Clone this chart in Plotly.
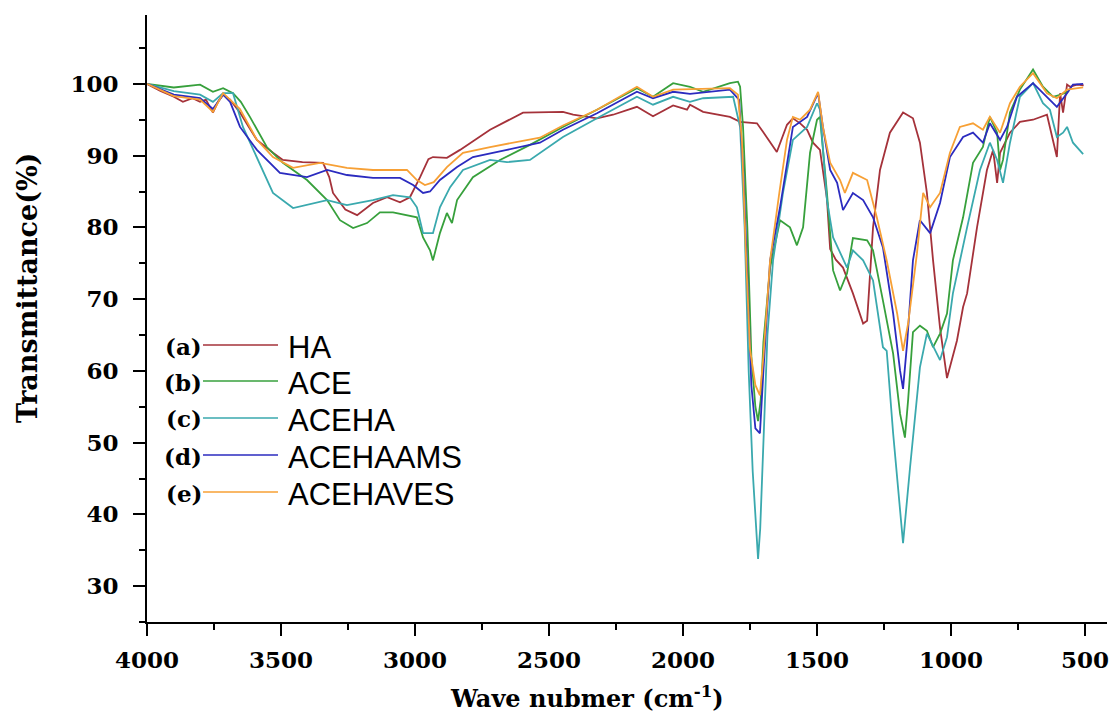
import plotly.graph_objects as go

# ---------------- data ----------------
series_names = ["HA", "ACE", "ACEHA", "ACEHAAMS", "ACEHAVES"]
series_tags = ["(a)", "(b)", "(c)", "(d)", "(e)"]
series_colors = ["#A5323A", "#37A03C", "#3AA9AE", "#2B2BBF", "#F7A035"]

ha_wn = [4000, 3950, 3900, 3866, 3830, 3802, 3780, 3754, 3735, 3716, 3690, 3653, 3620, 3590, 3530, 3493, 3420, 3343, 3320, 3306, 3260, 3216, 3157, 3104, 3056, 3019, 2981, 2950, 2933, 2881, 2832, 2720, 2597, 2448, 2410, 2321, 2261, 2172, 2112, 2037, 1985, 1974, 1925, 1825, 1787, 1724, 1701, 1650, 1612, 1590, 1563, 1537, 1515, 1489, 1463, 1451, 1430, 1403, 1366, 1328, 1313, 1291, 1265, 1228, 1179, 1142, 1116, 1090, 1067, 1041, 1015, 978, 955, 940, 903, 866, 843, 828, 817, 780, 743, 694, 642, 631, 605, 593, 582, 567, 556, 530, 505]
ha_t = [100, 99, 98.2, 97.5, 98.0, 97.5, 97.8, 96.0, 97.5, 98.5, 97.8, 96, 94, 92.2, 90.4, 89.4, 89.1, 89, 87, 84.8, 82.5, 81.7, 83.4, 84.2, 83.5, 84.2, 87, 89.5, 89.8, 89.7, 90.8, 93.6, 96, 96.1, 95.7, 95.2, 95.7, 96.8, 95.5, 97, 96.4, 97.1, 96.1, 95.4, 94.7, 94.5, 93.3, 90.5, 94.3, 95.2, 94.5, 93.6, 91.8, 90.8, 84, 77, 75.5, 74.4, 70.8, 66.6, 67, 80, 88, 93.2, 96, 95.2, 91.8, 84.8, 75.4, 66, 59, 64.2, 68.9, 70.8, 80, 88, 90.8, 86.2, 90.4, 93.2, 94.7, 95, 95.7, 94, 89.8, 98.7, 96, 99.9, 99.6, 99.9, 99.8]

ace_wn = [4000, 3900, 3802, 3754, 3716, 3679, 3650, 3616, 3553, 3493, 3403, 3328, 3280, 3231, 3179, 3131, 3082, 3030, 2993, 2970, 2944, 2933, 2907, 2881, 2862, 2843, 2784, 2683, 2571, 2448, 2321, 2172, 2112, 2037, 1974, 1925, 1825, 1795, 1787, 1776, 1760, 1745, 1730, 1720, 1710, 1700, 1675, 1638, 1601, 1575, 1552, 1526, 1500, 1489, 1463, 1440, 1414, 1388, 1366, 1313, 1291, 1254, 1216, 1190, 1172, 1160, 1142, 1116, 1090, 1067, 1041, 1015, 993, 955, 918, 881, 855, 828, 817, 806, 780, 743, 694, 657, 619, 590, 560]
ace_t = [100, 99.5, 99.9, 98.9, 99.4, 98.7, 97.5, 95.4, 91.2, 89, 86.6, 83.8, 81, 79.9, 80.6, 82.1, 82.1, 81.7, 81.4, 78.6, 76.8, 75.4, 79.2, 82, 80.6, 83.8, 87, 89.4, 91.5, 94, 96.4, 99.4, 98.2, 100.1, 99.6, 98.9, 100.1, 100.3, 99.6, 94, 80, 62, 55, 53, 56, 64, 74.4, 81, 80, 77.5, 80, 90.4, 95, 95.4, 84.8, 74, 71.2, 73.6, 78.5, 78.2, 76.8, 69.8, 62.4, 54, 50.7, 56, 65.4, 66.3, 65.6, 63.3, 65.2, 68, 75.4, 81.4, 89, 91.2, 95.4, 93.2, 88, 89.4, 96, 99.2, 102, 99.6, 98.2, 98.5, 99]

aceha_wn = [4000, 3900, 3802, 3754, 3716, 3679, 3642, 3590, 3530, 3455, 3381, 3328, 3254, 3157, 3082, 3019, 2993, 2970, 2933, 2907, 2869, 2821, 2720, 2657, 2571, 2448, 2321, 2172, 2112, 2037, 1974, 1925, 1813, 1787, 1770, 1755, 1740, 1728, 1720, 1712, 1700, 1685, 1664, 1627, 1590, 1537, 1500, 1489, 1463, 1440, 1388, 1366, 1328, 1291, 1254, 1240, 1216, 1179, 1153, 1116, 1090, 1041, 1015, 993, 940, 892, 855, 828, 806, 780, 743, 694, 657, 631, 605, 582, 567, 545, 507]
aceha_t = [100, 99, 98.5, 97.5, 98.7, 98.7, 94, 89.8, 84.8, 82.7, 83.4, 83.8, 83.1, 83.8, 84.5, 84.2, 82.8, 79.2, 79.2, 82.8, 85.6, 88, 89.4, 89.1, 89.4, 92.6, 95.2, 98.2, 97.1, 98.2, 97.5, 98, 98.2, 94, 80, 60, 46, 38, 33.8, 38, 50, 65, 75.4, 84.8, 92.2, 94, 97.3, 96.4, 83.8, 78.6, 74.4, 76.8, 75.4, 72.6, 63.3, 62.8, 51.3, 36, 46.5, 60.5, 65.2, 61.5, 64.7, 70.8, 80, 88, 91.8, 89.4, 86.2, 91.8, 98.2, 100.1, 97.3, 96.4, 92.6, 93.2, 94, 91.8, 90.2]

acehaams_wn = [4000, 3900, 3802, 3754, 3716, 3690, 3653, 3590, 3504, 3403, 3328, 3254, 3157, 3056, 3007, 2970, 2944, 2907, 2843, 2784, 2657, 2534, 2448, 2321, 2172, 2112, 2037, 1974, 1825, 1791, 1775, 1760, 1745, 1730, 1713, 1700, 1675, 1638, 1590, 1537, 1496, 1478, 1451, 1425, 1403, 1366, 1328, 1291, 1254, 1216, 1190, 1179, 1164, 1142, 1116, 1078, 1041, 1004, 955, 918, 881, 855, 817, 791, 754, 694, 642, 605, 567, 545, 507]
acehaams_t = [100, 98.5, 98, 96.5, 98.5, 97.5, 94, 90.8, 87.6, 87, 88, 87.3, 86.9, 86.9, 85.9, 84.8, 85.0, 86.6, 88.4, 89.8, 90.8, 91.8, 93.6, 95.9, 98.9, 98, 98.9, 98.6, 99.2, 97.8, 88, 72, 58, 52, 51.3, 60, 75.4, 82.8, 94, 95.4, 98.7, 94, 88, 86.2, 82.4, 84.8, 83.8, 81.4, 77.2, 68, 60, 57.5, 63.8, 75.4, 81, 79.2, 83.4, 89.8, 92.6, 93.2, 91.8, 94.5, 92.2, 94, 98.2, 100.1, 98.2, 96.8, 98.7, 99.9, 100]

acehaves_wn = [4000, 3900, 3802, 3754, 3716, 3690, 3653, 3590, 3530, 3455, 3354, 3254, 3157, 3030, 2993, 2963, 2930, 2881, 2821, 2720, 2534, 2448, 2321, 2172, 2112, 2037, 1825, 1795, 1780, 1765, 1750, 1730, 1713, 1700, 1675, 1640, 1612, 1590, 1563, 1526, 1496, 1478, 1451, 1414, 1396, 1366, 1313, 1277, 1240, 1201, 1179, 1160, 1127, 1104, 1078, 1041, 1004, 967, 918, 881, 855, 817, 780, 743, 694, 642, 605, 567, 507]
acehaves_t = [100, 98.3, 97.8, 96.1, 98.7, 97.8, 96.5, 92.2, 89.8, 88.3, 89, 88.3, 88, 88, 86.6, 85.9, 86.3, 88.4, 90.4, 91.2, 92.5, 94.2, 96.4, 99.6, 98.2, 99.2, 99.4, 98.5, 92, 76, 63, 58, 56.6, 62, 75.4, 85, 92.2, 95.4, 95, 96.4, 98.9, 94, 89, 86.6, 84.8, 87.6, 86.6, 81.4, 75.4, 68, 62.8, 66.6, 76.4, 84.8, 82.8, 84.8, 90.4, 94, 94.5, 93.6, 95.4, 93.2, 97.3, 99.6, 101.5, 98.7, 98, 99.2, 99.5]

x_ticks = [4000, 3500, 3000, 2500, 2000, 1500, 1000, 500]
y_ticks = [30, 40, 50, 60, 70, 80, 90, 100]

all_wn = [ha_wn, ace_wn, aceha_wn, acehaams_wn, acehaves_wn]
all_t = [ha_t, ace_t, aceha_t, acehaams_t, acehaves_t]

# ---------------- layout geometry (window pixels) ----------------
W, H = 1109, 719
PLOT_L, PLOT_R, PLOT_T, PLOT_B = 147, 1107, 15, 622   # plot area in window pixels
L, T = PLOT_L, PLOT_T
R = W - PLOT_R
B = H - PLOT_B
PW, PH = PLOT_R - PLOT_L, PLOT_B - PLOT_T


def px(xp):
    return (xp - PLOT_L) / PW


def py(yp):
    return (PLOT_B - yp) / PH


fig = go.Figure()
for wn, t, name, col in zip(all_wn, all_t, series_names, series_colors):
    fig.add_trace(go.Scatter(x=wn, y=t, mode="lines", name=name,
                             line=dict(color=col, width=1.8), showlegend=False))

tickfont = dict(family="DejaVu Serif", size=23, color="black", weight="bold")

fig.update_xaxes(range=[4000, 418], tickmode="array", tickvals=x_ticks,
                 ticktext=[str(v) for v in x_ticks],
                 showline=True, linecolor="black", linewidth=2, mirror=False,
                 ticks="outside", ticklen=12, tickwidth=2, tickcolor="black",
                 minor=dict(ticks="outside", ticklen=6, tickwidth=2, tickcolor="black",
                            dtick=250, tick0=0),
                 showgrid=False, zeroline=False, tickfont=tickfont,
                 ticklabelstandoff=4, automargin=False, ticklabeloverflow="allow")
fig.update_yaxes(range=[25, 109.6], tickmode="array", tickvals=y_ticks,
                 ticktext=[str(v) for v in y_ticks],
                 showline=True, linecolor="black", linewidth=2, mirror=False,
                 ticks="outside", ticklen=12, tickwidth=2, tickcolor="black",
                 minor=dict(ticks="outside", ticklen=6, tickwidth=2, tickcolor="black",
                            dtick=5, tick0=0),
                 showgrid=False, zeroline=False, tickfont=tickfont,
                 ticklabelstandoff=10, automargin=False, ticklabeloverflow="allow")

annotations = [
    dict(text="Transmittance(%)", x=px(27), y=py(288), xref="paper", yref="paper",
         textangle=-90, showarrow=False, xanchor="center", yanchor="middle",
         font=dict(family="DejaVu Serif", size=27, color="black", weight="bold")),
    dict(text="Wave nubmer (cm<sup>-1</sup>)", x=px(587), y=py(697), xref="paper", yref="paper",
         showarrow=False, xanchor="center", yanchor="middle",
         font=dict(family="DejaVu Serif", size=24, color="black", weight="bold")),
]
shapes = []
row_y = [346, 382, 419, 456, 493]
for tag, name, col, yy in zip(series_tags, series_names, series_colors, row_y):
    annotations.append(dict(text=tag, x=px(204), y=py(yy), xref="paper", yref="paper",
                            showarrow=False, xanchor="right", yanchor="middle",
                            font=dict(family="DejaVu Serif", size=23, color="black", weight="bold")))
    annotations.append(dict(text=name, x=px(286), y=py(yy + 1), xref="paper", yref="paper",
                            showarrow=False, xanchor="left", yanchor="middle",
                            font=dict(family="Liberation Sans", size=31, color="black")))
    shapes.append(dict(type="line", xref="paper", yref="paper", x0=px(203), x1=px(278),
                       y0=py(yy - 1), y1=py(yy - 1), line=dict(color=col, width=1.7)))

fig.update_layout(width=W, height=H, margin=dict(l=L, r=R, t=T, b=B, autoexpand=False),
                  paper_bgcolor="white", plot_bgcolor="white",
                  annotations=annotations, shapes=shapes, showlegend=False)

# remove the default 8px page margin so the figure sits at the window's corner
fig.write_html("out.html", config={"displayModeBar": False},
               post_script="document.body.style.margin='0';document.body.style.overflow='hidden';")
